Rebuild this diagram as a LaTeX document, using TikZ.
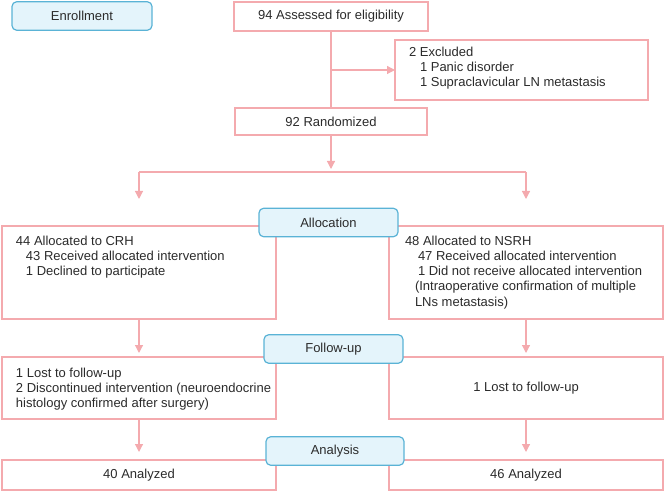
\documentclass[tikz,border=0pt]{standalone}
\usepackage{fontspec}
\setmainfont{Liberation Sans}
\usetikzlibrary{arrows.meta}
\definecolor{pinkline}{HTML}{F4AAAE}
\definecolor{bluefill}{HTML}{E4F4FB}
\definecolor{blueline}{HTML}{5AB3D6}
\definecolor{txt}{HTML}{2B2B2B}
\begin{document}
\begin{tikzpicture}[x=0.75pt,y=-0.75pt,
  every node/.style={text=txt,font=\fontsize{9.75}{11.25}\selectfont,inner sep=0pt,outer sep=0pt},
  pbox/.style={draw=pinkline,line width=0.9pt,fill=white,rectangle,minimum width=#1*0.75pt},
  bbox/.style={draw=blueline,line width=0.9pt,fill=bluefill,rounded corners=3.5pt,rectangle,minimum width=#1*0.75pt,minimum height=28.5*0.75pt},
  conn/.style={draw=pinkline,line width=0.9pt},
  arr/.style={conn,-{Triangle[length=6pt,width=6pt]}}]
\useasboundingbox (0,0) rectangle (665,492);
% pink boxes
\node[pbox=194,minimum height=29*0.75pt] (assess) at (331,16.5) {94 Assessed for eligibility};
\node[pbox=253,minimum height=60*0.75pt] (excl) at (521.5,70) {};
\node[anchor=base west] (e1) at (409,57) {2 Excluded};
\node[anchor=base west] (e2) at (420,72) {1 Panic disorder};
\node[anchor=base west] (e3) at (420,86.5) {1 Supraclavicular LN metastasis};
\node[pbox=192,minimum height=27*0.75pt] (rand) at (331,121.5) {92 Randomized};
\node[pbox=274,minimum height=93*0.75pt] (crh) at (139,272.5) {};
\node[pbox=274,minimum height=93*0.75pt] (nsrh) at (526,272.5) {};
\node[anchor=base west] (c1) at (16,245) {44 Allocated to CRH};
\node[anchor=base west] (c2) at (26,260.5) {43 Received allocated intervention};
\node[anchor=base west] (c3) at (26,276) {1 Declined to participate};
\node[anchor=base west] (n1) at (405,245) {48 Allocated to NSRH};
\node[anchor=base west] (n2) at (418,260.5) {47 Received allocated intervention};
\node[anchor=base west] (n3) at (418,276) {1 Did not receive allocated intervention};
\node[anchor=base west] (n4) at (415,291) {(Intraoperative confirmation of multiple};
\node[anchor=base west] (n5) at (415,306) {LNs metastasis)};
\node[pbox=274,minimum height=62*0.75pt] (fl) at (139,388) {};
\node[pbox=274,minimum height=62*0.75pt] (fr) at (526,388) {1 Lost to follow-up};
\node[anchor=base west] (f1) at (16,377.5) {1 Lost to follow-up};
\node[anchor=base west] (f2) at (16,392.5) {2 Discontinued intervention (neuroendocrine};
\node[anchor=base west] (f3) at (16,407) {histology confirmed after surgery)};
\node[pbox=274,minimum height=30*0.75pt] (al) at (139,475) {40 Analyzed};
\node[pbox=274,minimum height=30*0.75pt] (ar) at (526,475) {46 Analyzed};
% blue stage boxes
\node[bbox=140] (enroll) at (82,16) {Enrollment};
\node[bbox=139] (alloc) at (328.5,222.5) {Allocation};
\node[bbox=139] (fu) at (333.5,349) {Follow-up};
\node[bbox=138] (an) at (335,451) {Analysis};
% connectors
\coordinate (br) at (331,70);
\coordinate (rt) at (331,169);
\coordinate (hl) at (139,172);
\coordinate (hr) at (526,172);
\coordinate (tl) at (139,199);
\coordinate (tr) at (526,199);
\draw[conn] (assess.south) -- (rand.north);
\draw[arr] (br) -- (excl.west);
\draw[arr] (rand.south) -- (rt);
\draw[conn] (hl) -- (hr);
\draw[arr] (hl) -- (tl);
\draw[arr] (hr) -- (tr);
\coordinate (fla) at (139,353);
\coordinate (fra) at (526,353);
\draw[arr] (crh.south) -- (fla);
\draw[arr] (nsrh.south) -- (fra);
\coordinate (ala) at (139,452);
\coordinate (ara) at (526,452);
\draw[arr] (fl.south) -- (ala);
\draw[arr] (fr.south) -- (ara);
\end{tikzpicture}
\end{document}
